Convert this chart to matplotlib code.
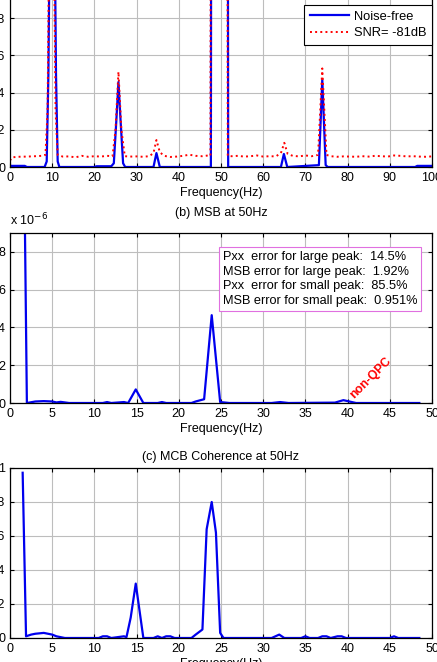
import matplotlib.pyplot as plt

plt.rcParams['font.family'] = ['Liberation Sans', 'DejaVu Sans']

# (a) spectrum, noise-free vs noisy
f_clean = [0, 3.5, 4, 8.2, 8.7, 9.1, 9.5, 10.5, 10.9, 11.3, 11.7, 20, 20.5, 24, 24.6,
           25.2, 25.7, 26.2, 26.8, 27.3, 34, 34.7, 35.5, 47.6, 47.7, 51.6, 51.7, 64.2,
           64.9, 65.7, 73.2, 74.0, 74.8, 75.3, 96, 96.5, 100]
p_clean = [0.006, 0.006, 0.0, 0.0, 0.03, 0.5, 1.5, 1.5, 0.5, 0.03, 0.0, 0.0, 0.004, 0.004,
           0.02, 0.25, 0.457, 0.25, 0.02, 0.0, 0.0, 0.075, 0.0, 0.0, 2.0, 2.0, 0.0, 0.0,
           0.07, 0.0, 0.01, 0.47, 0.01, 0.0, 0.0, 0.006, 0.006]

f_noisy = [0, 0.5, 2, 4, 6, 7.5, 8.4, 8.9, 9.4, 10.3, 10.8, 11.3, 12.5, 14, 15.5, 17, 18.5,
           20, 21.5, 23, 24.3, 25.0, 25.7, 26.4, 27.2, 28.5, 30, 31.5, 33, 34.0, 34.7,
           35.5, 36.5, 38, 39.5, 41, 42.5, 44, 45.5, 47, 47.5, 47.6, 51.5, 51.6, 52.5, 54,
           55.5, 57, 58.5, 60, 61.5, 63, 64.2, 65.0, 65.8, 67, 68.5, 70, 71.5, 73.0, 74.0,
           75.0, 76, 77.5, 79, 80.5, 82, 83.5, 85, 86.5, 88, 89.5, 91, 92.5, 94, 95.5, 97,
           98.5, 100]
p_noisy = [0.035, 0.052, 0.055, 0.056, 0.058, 0.06, 0.065, 0.3, 1.5, 1.5, 0.3, 0.065, 0.056,
           0.057, 0.052, 0.06, 0.055, 0.058, 0.056, 0.06, 0.058, 0.2, 0.512, 0.2, 0.058,
           0.056, 0.057, 0.055, 0.058, 0.075, 0.145, 0.08, 0.06, 0.054, 0.056, 0.06, 0.066,
           0.06, 0.058, 0.062, 0.06, 2.0, 2.0, 0.06, 0.058, 0.06, 0.056, 0.058, 0.062,
           0.056, 0.058, 0.057, 0.075, 0.13, 0.07, 0.06, 0.057, 0.062, 0.058, 0.065, 0.53,
           0.065, 0.058, 0.055, 0.057, 0.056, 0.055, 0.058, 0.056, 0.06, 0.058, 0.056,
           0.062, 0.06, 0.057, 0.058, 0.056, 0.055, 0.057]

# (b) MSB at 50Hz, in units of 1e-6
f_msb = [1.5, 2.0, 3, 4, 5, 5.5, 6, 7, 11, 11.5, 12, 13.5, 14, 14.9, 15.8, 17.5, 18, 18.5,
         21.5, 22, 23, 23.9, 24.9, 26, 31, 32, 33, 38.5, 39.5, 40.5, 41, 48.5]
msb_e6 = [20, 0.0, 0.08, 0.1, 0.08, 0.03, 0.06, 0.0, 0.0, 0.05, 0.0, 0.05, 0.0, 0.72, 0.0,
          0.0, 0.05, 0.0, 0.0, 0.08, 0.2, 4.65, 0.05, 0.0, 0.0, 0.05, 0.0, 0.02, 0.15, 0.05,
          0.0, 0.0]

# (c) MCB coherence at 50Hz
f_mcb = [1.5, 1.9, 2.5, 3, 4, 5, 5.5, 6.5, 10.5, 11, 11.5, 12, 13.5, 13.8, 14.3, 14.9, 15.8,
         17, 17.5, 18, 18.5, 19, 19.5, 21.5, 22, 22.8, 23.3, 23.9, 24.4, 24.9, 25.3, 31,
         31.9, 32.5, 34.5, 35, 35.5, 36.5, 37, 37.5, 38, 38.8, 39.3, 39.8, 45, 45.5, 46, 48.5]
mcb = [0.972, 0.01, 0.02, 0.025, 0.03, 0.02, 0.01, 0.0, 0.0, 0.01, 0.01, 0.0, 0.01, 0.005,
       0.12, 0.32, 0.0, 0.0, 0.01, 0.0, 0.01, 0.01, 0.0, 0.0, 0.02, 0.05, 0.64, 0.80, 0.62,
       0.03, 0.0, 0.0, 0.02, 0.0, 0.0, 0.01, 0.0, 0.0, 0.01, 0.01, 0.0, 0.01, 0.01, 0.0,
       0.0, 0.01, 0.0, 0.0]

err_lines = ["Pxx  error for large peak:  14.5%",
             "MSB error for large peak:  1.92%",
             "Pxx  error for small peak:  85.5%",
             "MSB error for small peak:  0.951%"]

W, H = 437, 662
fig = plt.figure(figsize=(W / 100, H / 100), dpi=100)

def px_axes(top, bottom, left=10, right=432):
    return fig.add_axes([left / W, 1 - bottom / H, (right - left) / W, (bottom - top) / H])

def style(ax):
    ax.grid(True, color='#bdbdbd', lw=0.8)
    ax.set_axisbelow(True)
    ax.tick_params(direction='in', top=True, right=True, length=3, labelsize=9, pad=3.5)
    for s in ax.spines.values():
        s.set_linewidth(0.9)

ax1 = px_axes(-19, 167)
ax1.plot(f_clean, p_clean, color='#0000ee', lw=1.6, label='Noise-free')
ax1.plot(f_noisy, p_noisy, color='red', lw=1.4, ls=':', label='SNR= -81dB')
ax1.set_xlim(0, 100)
ax1.set_ylim(0, 1)
ax1.set_xticks(range(0, 101, 10))
ax1.set_yticks([0, 0.2, 0.4, 0.6, 0.8, 1])
ax1.set_yticklabels(['0', '0.2', '0.4', '0.6', '0.8', '1'])
ax1.set_xlabel('Frequency(Hz)', fontsize=9, labelpad=2)
style(ax1)
leg = ax1.legend(loc='upper right', bbox_to_anchor=(1.0, 0.871), borderaxespad=0,
                 fontsize=9.3, fancybox=False, framealpha=1, edgecolor='black',
                 handlelength=3.0, handletextpad=0.4, borderpad=0.45, labelspacing=0.35)
leg.get_frame().set_linewidth(0.8)

ax2 = px_axes(233, 403)
ax2.plot(f_msb, msb_e6, color='#0000ee', lw=1.6)
ax2.set_xlim(0, 50)
ax2.set_ylim(0, 9)
ax2.set_xticks(range(0, 51, 5))
ax2.set_yticks([0, 2, 4, 6, 8])
ax2.set_xlabel('Frequency(Hz)', fontsize=9, labelpad=2)
ax2.set_title('(b) MSB at 50Hz', fontsize=9, pad=12)
ax2.text(0, 1.025, r'x 10$^{-6}$', transform=ax2.transAxes, fontsize=9, ha='left', va='bottom')
style(ax2)
ax2.text(0.505, 0.893, '\n'.join(err_lines), transform=ax2.transAxes, fontsize=9.2,
         ha='left', va='top', linespacing=1.28,
         bbox=dict(boxstyle='square,pad=0.3', facecolor='white', edgecolor='#e070e0', lw=0.8))
ax2.text(40.7, 0.22, 'non-QPC', color='red', fontweight='bold', fontsize=8.8,
         rotation=45, rotation_mode='anchor', ha='left', va='baseline')

ax3 = px_axes(468, 638)
ax3.plot(f_mcb, mcb, color='#0000ee', lw=1.6)
ax3.set_xlim(0, 50)
ax3.set_ylim(0, 1)
ax3.set_xticks(range(0, 51, 5))
ax3.set_yticks([0, 0.2, 0.4, 0.6, 0.8, 1])
ax3.set_yticklabels(['0', '0.2', '0.4', '0.6', '0.8', '1'])
ax3.set_xlabel('Frequency(Hz)', fontsize=9, labelpad=2)
ax3.set_title('(c) MCB Coherence at 50Hz', fontsize=9, pad=6)
style(ax3)

fig.savefig('out.png', dpi=100)
